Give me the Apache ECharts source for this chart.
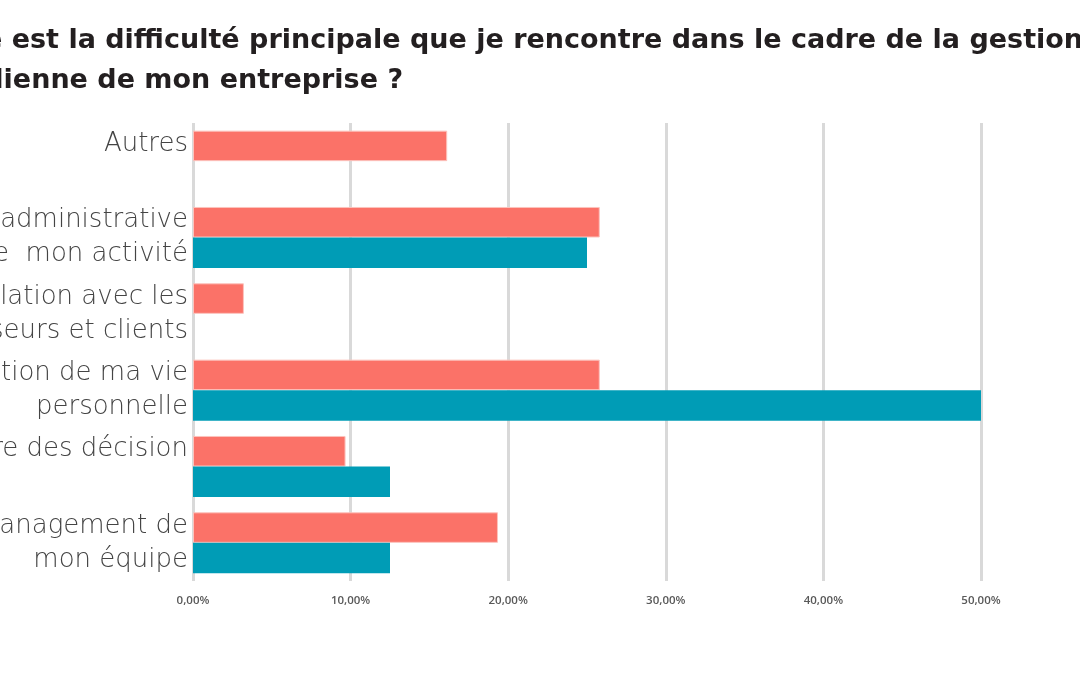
<!DOCTYPE html>
<html>
<head>
<meta charset="utf-8">
<script src="https://cdn.jsdelivr.net/npm/echarts@6/dist/echarts.min.js"></script>
<style>
html,body{margin:0;padding:0;background:#fff;}
#chart{width:1080px;height:675px;}
</style>
</head>
<body>
<div id="chart"></div>
<script>
const titleText = "Quelle est la difficulté principale que je rencontre dans le cadre de la gestion\nquotidienne de mon entreprise ?";
const categories = [
  "Autres\n ",
  "La charge administrative\net comptable de  mon activité",
  "La relation avec les\nfournisseurs et clients",
  "La gestion de ma vie\npersonnelle",
  "Prendre des décision\n ",
  "Le management de\nmon équipe"
];
const seriesCoral = [16.13, 25.81, 3.23, 25.81, 9.68, 19.35];
const seriesTeal = [0, 25.0, 0, 50.0, 12.5, 12.5];
const xTicks = [0, 10, 20, 30, 40, 50];

const chart = echarts.init(document.getElementById('chart'));
chart.setOption({
  backgroundColor: '#ffffff',
  animation: false,
  title: {
    text: titleText,
    left: -100,
    top: 16,
    textStyle: {
      fontFamily: 'DejaVu Sans',
      fontWeight: 'bold',
      fontSize: 27,
      lineHeight: 40,
      color: '#231f20'
    }
  },
  grid: { left: 193, right: 99, top: 123, bottom: 94, containLabel: false, outerBoundsMode: 'none' },
  xAxis: {
    type: 'value',
    min: xTicks[0],
    max: xTicks[xTicks.length - 1],
    interval: 10,
    axisLine: { show: false },
    axisTick: { show: false },
    splitLine: { show: true, lineStyle: { color: '#d9d9d9', width: 3 } },
    axisLabel: {
      margin: 14,
      fontFamily: 'Open Sans',
      fontWeight: 600,
      fontSize: 11.5,
      color: '#595959',
      formatter: v => v.toFixed(2).replace('.', ',') + '%'
    }
  },
  yAxis: {
    type: 'category',
    data: categories,
    inverse: true,
    axisLine: { show: false },
    axisTick: { show: false },
    axisLabel: {
      margin: 5,
      fontFamily: 'DejaVu Sans',
      fontWeight: 200,
      fontSize: 26,
      lineHeight: 34,
      padding: [0, 0, 5, 0],
      color: '#444444',
      align: 'right'
    }
  },
  series: [
    {
      type: 'bar',
      data: seriesCoral,
      barGap: '0%',
      barCategoryGap: '20%',
      itemStyle: { color: '#fb7268', borderColor: '#fcc3bd', borderWidth: 1 },
      silent: true
    },
    {
      type: 'bar',
      data: seriesTeal,
      barGap: '0%',
      barCategoryGap: '20%',
      itemStyle: { color: '#009cb6', borderWidth: 0 },
      silent: true
    }
  ]
});
</script>
</body>
</html>
